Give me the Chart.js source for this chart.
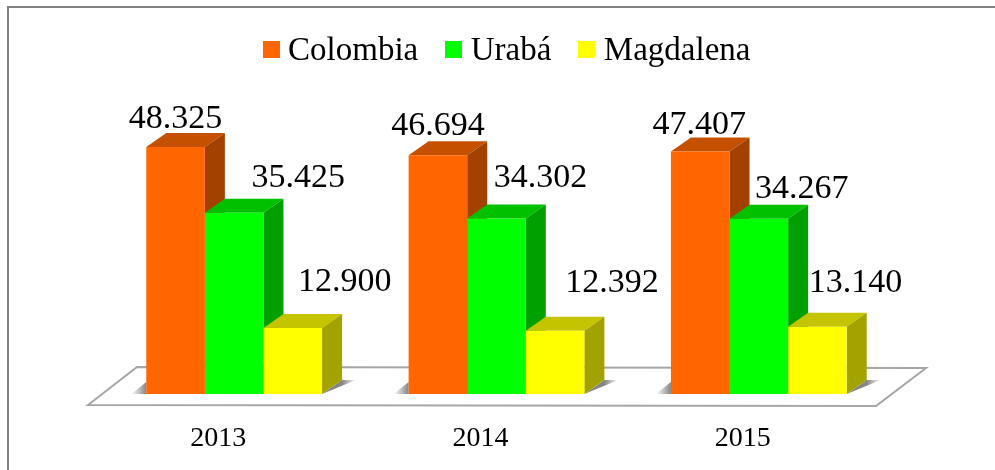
<!DOCTYPE html>
<html>
<head>
<meta charset="utf-8">
<script src="https://cdn.jsdelivr.net/npm/chart.js@4"></script>
<style>
html, body { margin: 0; padding: 0; background: #fff; overflow: hidden; }
#box { position: relative; width: 995px; height: 470px; }
</style>
</head>
<body>
<div id="box"><canvas id="chart-bars" width="995" height="470"></canvas></div>
<script>
const years = ["2013", "2014", "2015"];
const colombia = [48325, 46694, 47407];
const uraba = [35425, 34302, 34267];
const magdalena = [12900, 12392, 13140];

// labels were placed by hand in the original: [dx, dy] from the bar's top centre
const label_offsets = [
    [[0, -19], [64, -26], [52, -37]],
    [[0, -20], [44, -32], [57, -39]],
    [[-1, -18], [43, -21], [38, -35]]
];

const font_name = "'Liberation Serif', serif";
const depth_x = 20;
const depth_y = 14;
const front_colors = ["#FF6600", "#00FF00", "#FFFF00"];
const side_colors = [
    {top: "#C45000", side: "#A34200"},
    {top: "#00C000", side: "#00A000"},
    {top: "#C4C400", side: "#A3A300"}
];

function polygon(ctx, points, fill) {
    ctx.beginPath();
    points.forEach((p, i) => i ? ctx.lineTo(p[0], p[1]) : ctx.moveTo(p[0], p[1]));
    ctx.closePath();
    if (fill) {
        ctx.fillStyle = fill;
        ctx.fill();
    }
}

// legend swatch as an image, so it can sit closer to the text than the default box
function swatch(color) {
    const c = document.createElement("canvas");
    c.width = 17;
    c.height = 21;
    const g = c.getContext("2d");
    g.fillStyle = color;
    g.fillRect(0, 0, 17, 17);
    return c;
}

const frame_plugin = {
    id: 'frame',
    afterLayout(chart) {
        // legend is not centred on the plot in the original
        chart.legend.left += 14;
        chart.legend.right += 14;
    },
    beforeDraw(chart) {
        const ctx = chart.ctx;
        const area = chart.chartArea;
        ctx.save();
        ctx.strokeStyle = "#808080";
        ctx.lineWidth = 2;
        ctx.beginPath();
        ctx.moveTo(8, 470);
        ctx.lineTo(8, 7);
        ctx.lineTo(995, 7);
        ctx.stroke();

        // floor of the 3D plot
        ctx.strokeStyle = "#A6A6A6";
        polygon(ctx, [
            [area.left - 15, area.bottom + 11],
            [area.left + 34, area.bottom - 27],
            [area.right + 36, area.bottom - 26],
            [area.right - 14, area.bottom + 12]
        ]);
        ctx.stroke();
        ctx.restore();
    }
};

const depth_plugin = {
    id: 'depth',
    beforeDatasetsDraw(chart) {
        const ctx = chart.ctx;
        chart.data.labels.forEach((label, i) => {
            const first = chart.getDatasetMeta(0).data[i];
            const last = chart.getDatasetMeta(2).data[i];
            const y = first.base;
            const l = first.x - first.width / 2;
            const r = last.x + last.width / 2;

            const grad_left = ctx.createLinearGradient(l - 15, 0, l, 0);
            grad_left.addColorStop(0, "rgba(120,120,120,0)");
            grad_left.addColorStop(1, "rgba(120,120,120,0.9)");
            polygon(ctx, [[l - 15, y], [l, y - 12], [l, y]], grad_left);

            const grad_right = ctx.createLinearGradient(r + depth_x, 0, r + depth_x + 14, 0);
            grad_right.addColorStop(0, "rgba(120,120,120,0.9)");
            grad_right.addColorStop(1, "rgba(120,120,120,0)");
            polygon(ctx, [[r, y], [r + depth_x, y - depth_y], [r + depth_x + 14, y - depth_y]], grad_right);
        });
        chart.data.datasets.forEach((dataset, d) => {
            chart.getDatasetMeta(d).data.forEach(bar => {
                const l = bar.x - bar.width / 2;
                const r = bar.x + bar.width / 2;
                polygon(ctx, [[l, bar.y], [l + depth_x, bar.y - depth_y], [r + depth_x, bar.y - depth_y], [r, bar.y]], side_colors[d].top);
                polygon(ctx, [[r, bar.y], [r + depth_x, bar.y - depth_y], [r + depth_x, bar.base - depth_y], [r, bar.base]], side_colors[d].side);
            });
        });
    },
    afterDatasetsDraw(chart) {
        const ctx = chart.ctx;
        ctx.save();
        ctx.font = "34px " + font_name;
        ctx.fillStyle = "#000";
        ctx.textAlign = "center";
        ctx.textBaseline = "alphabetic";
        chart.data.datasets.forEach((dataset, d) => {
            chart.getDatasetMeta(d).data.forEach((bar, i) => {
                const off = label_offsets[i][d];
                ctx.fillText(dataset.data[i].toLocaleString('de-DE'), bar.x + off[0], bar.y + off[1]);
            });
        });
        ctx.restore();
    }
};

const chart_bars = new Chart(document.getElementById("chart-bars"), {
    type: 'bar',
    plugins: [frame_plugin, depth_plugin],
    data: {
        labels: years,
        datasets: [
            {label: 'Colombia', data: colombia, backgroundColor: front_colors[0]},
            {label: 'Urabá', data: uraba, backgroundColor: front_colors[1]},
            {label: 'Magdalena', data: magdalena, backgroundColor: front_colors[2]}
        ]
    },
    options: {
        responsive: false,
        animation: false,
        layout: {padding: {left: 103, right: 105, top: 0, bottom: 0}},
        datasets: {bar: {barPercentage: 1, categoryPercentage: 0.67}},
        plugins: {
            tooltip: {enabled: false},
            legend: {
                position: 'top',
                labels: {
                    usePointStyle: true,
                    boxWidth: 1,
                    boxHeight: 17,
                    padding: 35,
                    color: "#000",
                    font: {family: font_name, size: 33},
                    generateLabels(chart) {
                        const items = Chart.defaults.plugins.legend.labels.generateLabels(chart);
                        items.forEach((item, i) => { item.pointStyle = swatch(front_colors[i]); });
                        return items;
                    }
                }
            }
        },
        scales: {
            x: {
                grid: {display: false},
                border: {display: false},
                ticks: {color: "#000", padding: 20, labelOffset: -16, font: {family: font_name, size: 28}},
                afterFit(scale) {
                    scale.height = 76;
                }
            },
            y: {
                display: false,
                min: 0,
                max: 61800
            }
        }
    }
});
</script>
</body>
</html>
